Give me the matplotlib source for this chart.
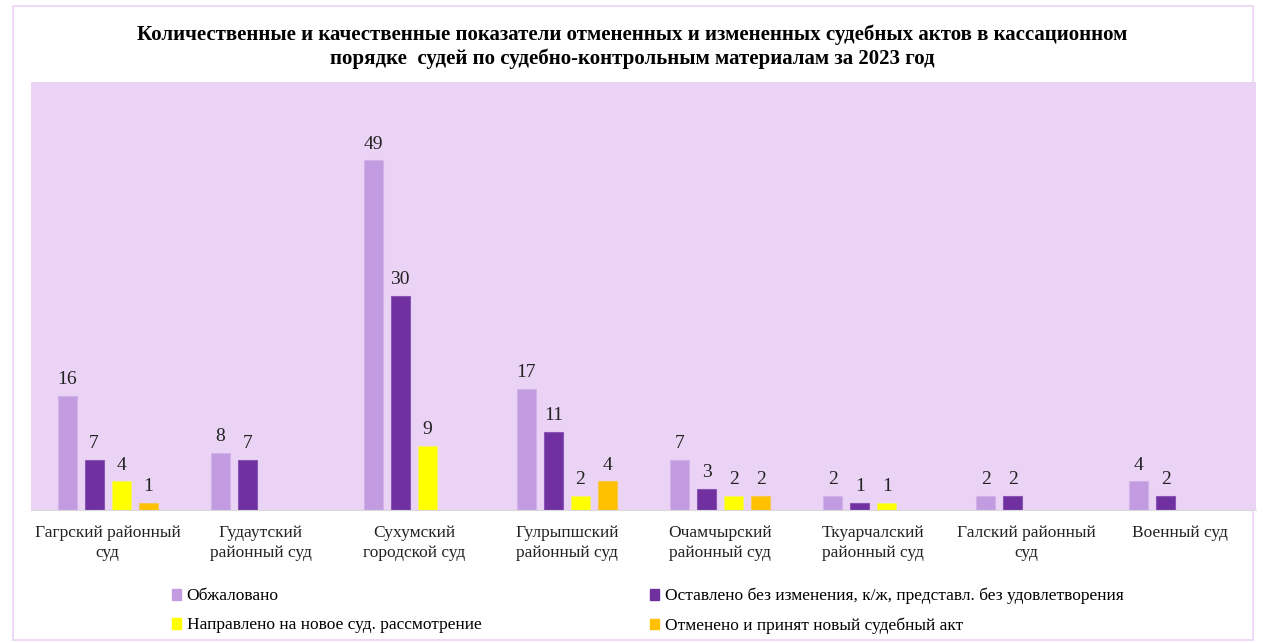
import numpy as np
import matplotlib.pyplot as plt
from matplotlib.patches import Rectangle

courts = ['Гагрский районный\nсуд', 'Гудаутский\nрайонный суд', 'Сухумский\nгородской суд',
          'Гулрыпшский\nрайонный суд', 'Очамчырский\nрайонный суд', 'Ткуарчалский\nрайонный суд',
          'Галский районный\nсуд', 'Военный суд']
obzh = [16, 8, 49, 17, 7, 2, 2, 4]
ostav = [7, 7, 30, 11, 3, 1, 2, 2]
naprav = [4, 0, 9, 2, 2, 1, 0, 0]
otmen = [1, 0, 0, 4, 2, 0, 0, 0]

series_names = ['Обжаловано',
                'Оставлено без изменения, к/ж, представл. без удовлетворения',
                'Направлено на новое суд. рассмотрение',
                'Отменено и принят новый судебный акт']
colors = ['#c39be0', '#7030a0', '#ffff00', '#ffc000']
edges = ['#d2b2ea', '#8a55b5', '#f5f06a', '#f5c850']

plt.rcParams['font.family'] = ['Liberation Serif', 'DejaVu Serif']

fig = plt.figure(figsize=(12.65, 6.43), dpi=100)
fig.patches.append(Rectangle((13/1265, 1 - 640/643), 1240/1265, 634/643,
                             transform=fig.transFigure, fill=False,
                             edgecolor='#ecd3f5', lw=1.2))
ax = fig.add_axes([31/1265, 1 - 510/643, (1256-31)/1265, (510-82)/643])
ax.set_facecolor('#ebd3f5')

x = np.arange(len(courts))
slot = 27/153
width = 19/153
for i, vals in enumerate([obzh, ostav, naprav, otmen]):
    xs = x + (i - 1.5) * slot
    for xi, v in zip(xs, vals):
        if v == 0:
            continue
        ax.bar(xi, v, width, color=colors[i], edgecolor=edges[i], linewidth=0.8)
        ax.text(xi, v + 1.1, str(v), ha='center', va='bottom', fontsize=14, color='#222222')

ax.set_xlim(-0.5, len(courts) - 0.5)
ax.set_ylim(0, 60)
ax.set_yticks([])
ax.set_xticks(x)
ax.set_xticklabels(courts, fontsize=12.5, color='#222222', linespacing=1.35)
ax.tick_params(axis='x', length=0, pad=11)
for s in ['top', 'right', 'left']:
    ax.spines[s].set_visible(False)
ax.spines['bottom'].set_color('#d9d9d9')

fig.text(0.5, 1 - 47/643, 'Количественные и качественные показатели отмененных и измененных судебных актов в кассационном\n'
         'порядке  судей по судебно-контрольным материалам за 2023 год',
         ha='center', va='center', fontsize=15, fontweight='bold', linespacing=1.2)

order = [0, 2, 1, 3]
handles = [Rectangle((0, 0), 1, 1, color=colors[k]) for k in order]
labels = [series_names[k] for k in order]
fig.legend(handles, labels, loc='upper left', bbox_to_anchor=(165/1265, 1 - 581/643),
           ncol=2, frameon=False, fontsize=12.5, handlelength=0.55, handleheight=0.55,
           handletextpad=0.3, columnspacing=9.7, labelspacing=0.75, borderaxespad=0)

fig.savefig('out.png', dpi=100)
